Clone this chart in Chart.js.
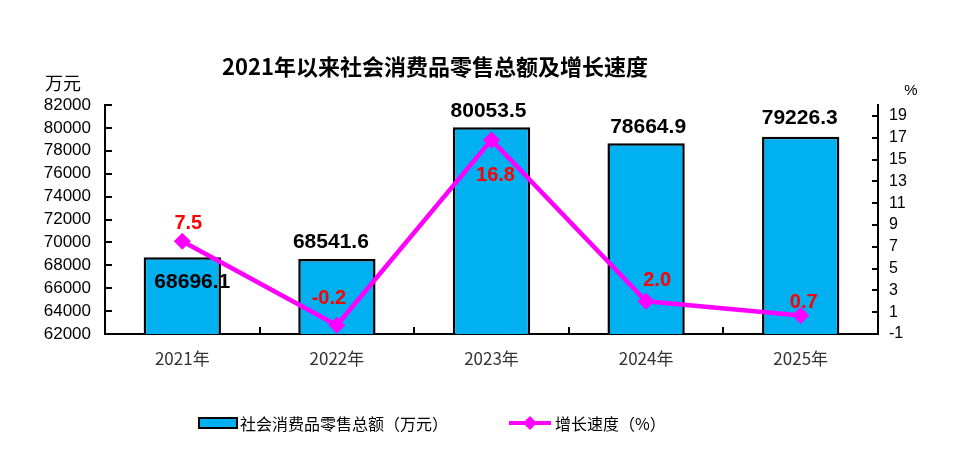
<!DOCTYPE html>
<html>
<head>
<meta charset="utf-8">
<script src="https://cdn.jsdelivr.net/npm/chart.js@4.4.0/dist/chart.umd.min.js"></script>
<style>
html,body{margin:0;padding:0;background:#fff;}
#wrap{width:957px;height:465px;}
</style>
</head>
<body>
<div id="wrap"><canvas id="c" width="957" height="465"></canvas></div>
<script>
const categories = ['2021年', '2022年', '2023年', '2024年', '2025年'];
const retailSales = [68696.1, 68541.6, 80053.5, 78664.9, 79226.3];
const growthRates = [7.5, -0.2, 16.8, 2.0, 0.7];
const leftTicks = [62000, 64000, 66000, 68000, 70000, 72000, 74000, 76000, 78000, 80000, 82000];
const rightTicks = [-1, 1, 3, 5, 7, 9, 11, 13, 15, 17, 19];
const titleText = '2021年以来社会消费品零售总额及增长速度';
const leftUnit = '万元';
const rightUnit = '%';
const barLegend = '社会消费品零售总额（万元）';
const lineLegend = '增长速度（%）';

// label offsets (dx, dy) relative to each mark
const barLabelOffsets = [[10, 25], [-6, -17], [-3, -16], [2, -16], [-1, -19]];
const lineLabelOffsets = [[6, -18], [-8, -27], [4, 36], [11, -21], [3, -13]];

const NUM_FONT = 'Arial, "Liberation Sans", sans-serif';
const CJK_FONT = '"Noto Sans CJK SC", "Noto Sans", sans-serif';
const BAR_COLOR = '#00B0F0';
const LINE_COLOR = '#FF00FF';

const decor = {
  id: 'decor',
  afterDatasetsDraw(chart) {
    const ctx = chart.ctx;
    const ca = chart.chartArea;
    const y = chart.scales.y, y1 = chart.scales.y1;
    ctx.save();
    ctx.strokeStyle = '#000';
    ctx.lineWidth = 2;
    ctx.beginPath();
    leftTicks.forEach(v => {
      const py = Math.round(y.getPixelForValue(v));
      ctx.moveTo(ca.left, py); ctx.lineTo(ca.left + 7, py);
    });
    rightTicks.forEach(v => {
      const py = Math.round(y1.getPixelForValue(v));
      ctx.moveTo(ca.right, py); ctx.lineTo(ca.right - 6, py);
    });
    const n = categories.length;
    for (let i = 1; i < n; i++) {
      const px = Math.round(ca.left + (ca.right - ca.left) * i / n);
      ctx.moveTo(px, ca.bottom); ctx.lineTo(px, ca.bottom - 7);
    }
    ctx.stroke();

    ctx.textAlign = 'center';
    ctx.textBaseline = 'middle';
    const barMeta = chart.getDatasetMeta(0);
    ctx.fillStyle = '#000';
    ctx.font = 'bold 21px ' + NUM_FONT;
    barMeta.data.forEach((el, i) => {
      const o = barLabelOffsets[i];
      ctx.fillText(retailSales[i].toFixed(1), el.x + o[0], el.y + o[1]);
    });
    ctx.restore();
  },
  afterDraw(chart) {
    const ctx = chart.ctx;
    ctx.save();
    ctx.textAlign = 'center';
    ctx.textBaseline = 'middle';
    const lineMeta = chart.getDatasetMeta(1);
    ctx.fillStyle = '#FF0000';
    ctx.font = 'bold 20px ' + NUM_FONT;
    lineMeta.data.forEach((el, i) => {
      const o = lineLabelOffsets[i];
      ctx.fillText(growthRates[i].toFixed(1), el.x + o[0], el.y + o[1]);
    });

    ctx.fillStyle = '#000';
    ctx.font = 'bold 22px ' + CJK_FONT;
    ctx.fillText(titleText, 435, 67);

    ctx.font = '18px ' + CJK_FONT;
    ctx.fillText(leftUnit, 63, 83);
    ctx.font = '15px ' + NUM_FONT;
    ctx.fillText(rightUnit, 911, 91);

    ctx.fillStyle = BAR_COLOR;
    ctx.fillRect(199, 418, 38, 10);
    ctx.strokeStyle = '#000';
    ctx.lineWidth = 2;
    ctx.strokeRect(199, 418, 38, 10);
    ctx.textAlign = 'left';
    ctx.fillStyle = '#000';
    ctx.font = '16px ' + CJK_FONT;
    ctx.fillText(barLegend, 240, 424);

    ctx.strokeStyle = LINE_COLOR;
    ctx.lineWidth = 4;
    ctx.beginPath();
    ctx.moveTo(509, 423); ctx.lineTo(551, 423);
    ctx.stroke();
    ctx.fillStyle = LINE_COLOR;
    ctx.beginPath();
    ctx.moveTo(530, 416); ctx.lineTo(537, 423); ctx.lineTo(530, 430); ctx.lineTo(523, 423);
    ctx.closePath(); ctx.fill();
    ctx.fillStyle = '#000';
    ctx.fillText(lineLegend, 555, 424);
    ctx.restore();
  }
};

new Chart(document.getElementById('c'), {
  data: {
    labels: categories,
    datasets: [
      {
        type: 'bar',
        label: barLegend,
        data: retailSales,
        yAxisID: 'y',
        backgroundColor: BAR_COLOR,
        borderColor: '#000',
        borderWidth: 2.5,
        borderSkipped: false,
        barPercentage: 0.5,
        categoryPercentage: 1.0,
        order: 2
      },
      {
        type: 'line',
        label: lineLegend,
        data: growthRates,
        yAxisID: 'y1',
        borderColor: LINE_COLOR,
        backgroundColor: LINE_COLOR,
        borderWidth: 4.5,
        pointStyle: 'rectRot',
        pointRadius: 8.5,
        pointHoverRadius: 8.5,
        pointBorderWidth: 0,
        tension: 0,
        order: 1
      }
    ]
  },
  options: {
    responsive: false,
    animation: false,
    devicePixelRatio: 1,
    layout: { padding: { top: 105, left: 0, right: 0, bottom: 0 } },
    plugins: { legend: { display: false }, title: { display: false }, tooltip: { enabled: false } },
    scales: {
      x: {
        offset: true,
        grid: { display: false, drawTicks: false },
        border: { display: true, color: '#000', width: 2 },
        ticks: { color: '#333', padding: 14, font: { size: 17, family: CJK_FONT } },
        afterFit(s) { s.height = 131; }
      },
      y: {
        position: 'left',
        min: 62000, max: 82000,
        grid: { display: false, drawTicks: false },
        border: { display: true, color: '#000', width: 2 },
        ticks: { color: '#000', padding: 14, autoSkip: false, font: { size: 17, family: NUM_FONT },
                 callback: v => String(v) },
        afterBuildTicks(s) { s.ticks = leftTicks.map(v => ({ value: v })); },
        afterFit(s) { s.width = 105; }
      },
      y1: {
        position: 'right',
        min: -1, max: 20,
        grid: { display: false, drawTicks: false },
        border: { display: true, color: '#000', width: 2 },
        ticks: { color: '#000', padding: 11, autoSkip: false, font: { size: 16, family: NUM_FONT },
                 callback: v => String(v) },
        afterBuildTicks(s) { s.ticks = rightTicks.map(v => ({ value: v })); },
        afterFit(s) { s.width = 79; }
      }
    }
  },
  plugins: [decor]
});
</script>
</body>
</html>
